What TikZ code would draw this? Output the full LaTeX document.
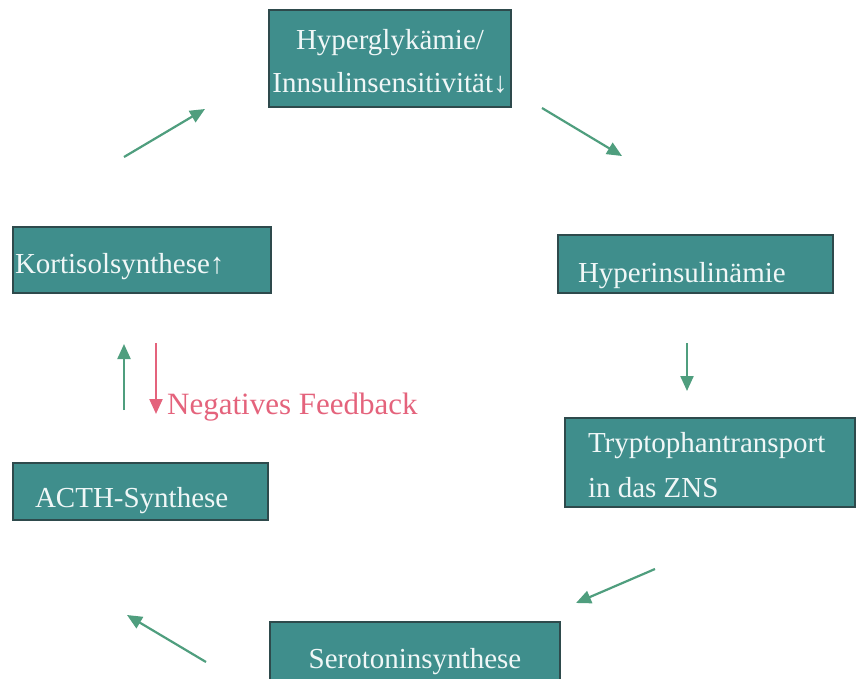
\documentclass[tikz,border=0pt]{standalone}
\usepackage{fontspec}
\setmainfont{Liberation Serif}
\usepackage{xcolor}
\usetikzlibrary{arrows.meta}
\definecolor{boxteal}{HTML}{3F8E8C}
\definecolor{boxrand}{HTML}{2E4A4C}
\definecolor{pfeilgruen}{HTML}{4F9E7E}
\definecolor{feedbackrot}{HTML}{E4637C}

\begin{document}
\begin{tikzpicture}[x=1pt,y=-1pt,font=\fontsize{29}{43}\selectfont,
  zelle/.style={draw=boxrand,line width=1.6pt,fill=boxteal,text=white!94!teal,inner ysep=0pt,outer sep=0pt,anchor=base west,align=flush left},
  pfeil/.style={draw=#1,line width=2.2pt,-{Triangle[length=15pt,width=13pt]}}]
\useasboundingbox (0,0) rectangle (856,679);
\clip (0,0) rectangle (856,679);
\node[zelle,text width=242pt,inner xsep=0pt,align=center,text height=40pt,text depth=57pt] (hyper) at (269,50) {Hyperglykämie/\\Innsulinsensitivität↓};
\node[zelle,text width=235pt,inner xsep=20pt,text height=47pt,text depth=11pt] (hins) at (558,282) {Hyperinsulinämie};
\node[zelle,text width=244pt,inner xsep=23pt,text height=34pt,text depth=55pt,font=\fontsize{29}{45}\selectfont] (trypt) at (565,452) {Tryptophantransport\\in das ZNS};
\node[zelle,text width=290pt,inner xsep=0pt,align=center,text height=46pt,text depth=20pt] (sero) at (270,668) {Serotoninsynthese};
\node[zelle,text width=211pt,inner xsep=22pt,text height=44pt,text depth=13pt] (acth) at (13,507) {ACTH-Synthese};
\node[zelle,text width=254pt,inner xsep=2pt,text height=46pt,text depth=20pt] (kort) at (13,273) {Kortisolsynthese↑};
% Pfeile im Kreis
\coordinate (p1s) at (542,108); \coordinate (p1e) at (622,156);
\coordinate (p2s) at (687,343); \coordinate (p2e) at (687,391);
\coordinate (p3s) at (655,569); \coordinate (p3e) at (576,603);
\coordinate (p4s) at (206,662); \coordinate (p4e) at (127,615);
\coordinate (p5s) at (124,410); \coordinate (p5e) at (124,344);
\coordinate (p6s) at (124,157); \coordinate (p6e) at (205,109);
\draw[pfeil=pfeilgruen] (p1s) -- (p1e);
\draw[pfeil=pfeilgruen] (p2s) -- (p2e);
\draw[pfeil=pfeilgruen] (p3s) -- (p3e);
\draw[pfeil=pfeilgruen] (p4s) -- (p4e);
\draw[pfeil=pfeilgruen] (p5s) -- (p5e);
\draw[pfeil=pfeilgruen] (p6s) -- (p6e);
% negatives Feedback
\coordinate (fbs) at (156,343);
\node[anchor=base west,text=feedbackrot,inner sep=0pt,font=\fontsize{31}{37}\selectfont] (fb) at (167,414) {Negatives Feedback};
\draw[pfeil=feedbackrot] (fbs) -- (fbs |- fb.base);
\end{tikzpicture}
\end{document}
